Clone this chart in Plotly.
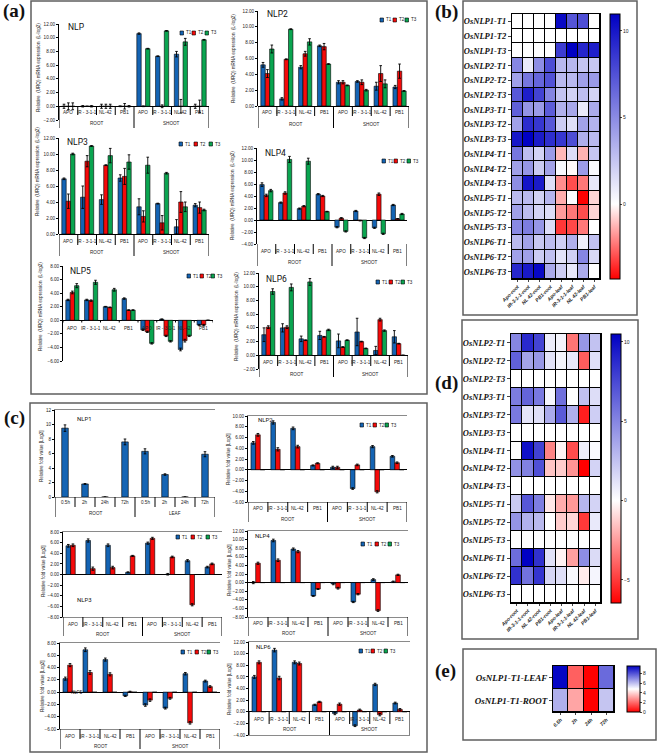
import plotly.graph_objects as go

W, H = 657, 753

# ---- panel (a) values ----
A1_T1 = [0, 0, 0, 0, 10.6, 7.3, 7.6, 0]
A1_T2 = [0, 0, 0, 0, 0, 0, 0, 0]
A1_T3 = [0, 0, 0, 0, 8.4, 11.0, 9.4, 9.7]
A1_E1 = [.3, .1, .3, .05, .1, .05, .4, .3]
A1_E2 = [.5, 0, .3, .4, .05, .2, 1, .9]
A1_E3 = [.5, .1, .3, .1, .05, .05, .5, .05]

A2_T1 = [5.2, 0.9, 4.9, 7.6, 3.0, 3.1, 2.5, 2.4]
A2_T2 = [4.1, 5.9, 6.6, 7.5, 3.0, 3.0, 4.1, 4.4]
A2_T3 = [7.2, 9.7, 8.1, 5.3, 2.6, 2.0, 2.8, 1.9]
A2_E1 = [.3, .15, .2, .1, .2, .1, .5, .2]
A2_E2 = [.5, .05, .3, .4, .2, .3, 1, .9]
A2_E3 = [.5, .05, .4, .05, .05, .1, .5, .05]

A3_T1 = [6.9, 4.6, 4.3, 7.0, 3.4, 3.8, 0.9, 3.6]
A3_T2 = [4.1, 9.1, 8.6, 7.2, 2.2, 1.4, 4.0, 3.3]
A3_T3 = [10.0, 11.0, 9.8, 9.0, 8.6, 7.6, 3.4, 3.0]
A3_E1 = [.1, 1.4, .6, .4, 1, .05, .9, .2]
A3_E2 = [.9, .7, .05, 1, .7, .9, 1.3, .7]
A3_E3 = [.1, .05, .9, .9, 1, .1, .6, .1]

A4_T1 = [5.9, 2.9, 1.9, 4.3, -1.2, 1.5, -1.3, 2.5]
A4_T2 = [4.1, 4.5, 2.3, 4.0, 0.3, -0.1, 4.3, 0.2]
A4_T3 = [4.9, 10.1, 9.8, 1.4, -1.9, -3.0, -2.3, 1.0]
A4_E1 = [.3, .1, .1, .1, .1, .1, .1, .1]
A4_E2 = [.2, .2, .1, .1, .1, .05, .2, .05]
A4_E3 = [.2, .5, .5, .05, .1, .1, .1, .1]

A5_T1 = [3.0, 3.0, 2.0, 3.2, -1.4, 0.15, -4.3, -0.7]
A5_T2 = [4.1, 2.9, 1.9, 1.5, -1.7, -2.3, -3.0, -0.7]
A5_T3 = [5.1, 5.6, 4.5, 1.5, -3.4, -3.1, -2.3, 0]
A5_E1 = [.1, .1, .05, .1, .1, .05, .2, .1]
A5_E2 = [.2, .1, .05, .05, .1, .1, .2, .1]
A5_E3 = [.3, .3, .2, .05, .1, .1, .1, 0]

A6_T1 = [3.0, 4.0, 2.4, 2.9, 2.1, 3.4, 0.7, 2.7]
A6_T2 = [4.1, 4.1, 2.2, 2.7, 1.2, 2.0, 5.2, 1.7]
A6_T3 = [9.3, 9.9, 10.7, 3.7, 2.2, 1.0, 3.6, 0]
A6_E1 = [1, .6, .4, .6, 1, 2, .6, .9]
A6_E2 = [.2, .2, .05, .05, .05, .05, .2, .05]
A6_E3 = [.4, .5, .5, .1, .05, .05, .1, 0]

# ---- panel (c) values ----
C1_T1 = [9.5, 1.8, 0, 7.6, 6.3, 3.1, 0, 5.9]
C1_E1 = [.45, .05, 0, .4, .35, .1, 0, .35]

C2_T1 = [5.0, 8.8, 7.7, 0.8, 0.45, -3.5, 4.3, 2.5]
C2_T2 = [6.5, 3.8, 4.3, 1.2, 0.45, 0.9, -4.1, 1.3]
C3_T1 = [5.4, 6.4, 5.5, 0.4, 5.9, 0.05, 2.6, 1.4]
C3_T2 = [5.5, 1.1, 1.3, 3.5, 6.8, 3.3, -5.7, 2.0]
C4_T1 = [0, 9.8, 7.8, -3.1, -0.3, -4.5, 0.7, 0.2]
C4_T2 = [4.5, 5.2, 7.2, -1.5, -1.3, -2.7, -6.5, 1.8]
C5_T1 = [2.2, 6.9, 5.3, -0.6, -2.1, -2.6, 3.0, 1.8]
C5_T2 = [4.4, 3.2, 2.9, 0.05, -1.3, -1.0, -5.0, 0.9]
C6_T1 = [6.0, 10.6, 8.5, 1.2, -0.3, -2.4, 4.7, 1.5]
C6_T2 = [8.5, 5.8, 8.3, 1.7, 1.3, 0.3, -0.5, 0.4]
C_EMPTY = [0, 0, 0, 0, 0, 0, 0, 0]
C_ERR = [.25, .3, .25, .1, .2, .15, .2, .15]

# ---- heat map labels ----
GROUPS = ["APO", "IR - 3-1-1", "NL-42", "PB1"]
TIMES = ["0.5h", "2h", "24h", "72h"]
HEAT_X = ["Apo-root", "IR-3-1-1-root", "NL 42-root", "PB1-root",
          "Apo-leaf", "IR-3-1-1-leaf", "NL 42-leaf", "PB1-leaf"]
B_ROWS = [f"OsNLP{g}-T{t}" for g in range(1, 7) for t in (1, 2, 3)]
D_ROWS = [f"OsNLP{g}-T{t}" for g in range(2, 7) for t in (1, 2, 3)]
B_Z = [A1_T1, A1_T2, A1_T3, A2_T1, A2_T2, A2_T3, A3_T1, A3_T2, A3_T3,
       A4_T1, A4_T2, A4_T3, A5_T1, A5_T2, A5_T3, A6_T1, A6_T2, A6_T3]
D_Z = [C2_T1, C2_T2, C_EMPTY, C3_T1, C3_T2, C_EMPTY, C4_T1, C4_T2, C_EMPTY,
       C5_T1, C5_T2, C_EMPTY, C6_T1, C6_T2, C_EMPTY]
E_ROWS = ["OsNLP1-T1-LEAF", "OsNLP1-T1-ROOT"]
E_LEAF = [9.5, 1.8, 0, 7.6]
E_ROOT = [6.3, 3.1, 0, 5.9]

COL = ["#1464B4", "#F50A0A", "#0AA550"]
NAMES = ["T1", "T2", "T3"]
SANS = "Liberation Sans, Arial, sans-serif"
SERIF = "Liberation Serif, Times New Roman, serif"
TITLE_FONT = "Roboto, Arial, sans-serif"
INK = "#222222"


def X(p):
    return p / W


def Y(p):
    return 1 - p / H


fig = go.Figure()
shapes, annos = [], []
layout = {}
axn = 0


def text(x, y, s, size=4.6, font=SANS, xref="paper", yref="paper", angle=0,
         anchor="center", color=INK):
    annos.append(dict(x=x, y=y, text=s, showarrow=False, xref=xref, yref=yref,
                      textangle=angle, xanchor=anchor, yanchor="middle",
                      font=dict(size=size, family=font, color=color)))


def frame(x0, y0, x1, y1):
    shapes.append(dict(type="rect", xref="paper", yref="paper", x0=X(x0), x1=X(x1),
                       y0=Y(y0), y1=Y(y1), line=dict(color="#5f5f5f", width=1.5)))


def vline(xa, x, y0, y1, w=1.0):
    shapes.append(dict(type="line", xref=xa, yref="paper", x0=x, x1=x,
                       y0=Y(y0), y1=Y(y1), line=dict(color="black", width=w)))


def bars(px0, px1, py_top, py_bot, ymax, ymin, series, errors, title, title_xy, leg_x, leg_y,
         ytitle, ytitle_xy, lab_y, lab2_y, div_top, short_bot, long_bot, box=False, dtick=2,
         fmt=".2f", labels=None, parts=("ROOT", "SHOOT"), title_size=8.5):
    global axn
    axn += 1
    sfx = "" if axn == 1 else str(axn)
    xa, ya = f"x{sfx}", f"y{sfx}"
    for k, (vals, err) in enumerate(zip(series, errors)):
        fig.add_trace(go.Bar(
            x=[i + 0.5 for i in range(8)], y=vals, name=NAMES[k], xaxis=xa, yaxis=ya,
            marker=dict(color=COL[k], line=dict(color="black", width=0.6)), showlegend=False,
            error_y=dict(type="data", array=err, visible=any(e > 0 for e in err),
                         color="black", thickness=0.9, width=1.3)))
    mirror = {"mirror": True} if box else {}
    layout[f"xaxis{sfx}"] = dict(domain=[X(px0), X(px1)], range=[0, 8], anchor=ya,
                                 showgrid=False, showticklabels=False, ticks="",
                                 showline=box, linecolor="#8a8a8a", linewidth=0.8, zeroline=False, **mirror)
    layout[f"yaxis{sfx}"] = dict(domain=[Y(py_bot), Y(py_top)], range=[ymin, ymax], anchor=xa,
                                 dtick=dtick, tickformat=fmt, showgrid=False, ticks="outside",
                                 ticklen=2, tickwidth=0.8, tickcolor="black", showline=True,
                                 linecolor="black", linewidth=1, zeroline=True,
                                 zerolinecolor="black", zerolinewidth=1.1,
                                 tickfont=dict(size=4.6, family=SANS, color=INK))
    labels = labels or (GROUPS + GROUPS)
    for i, lab in enumerate(labels):
        text(i + 0.5, Y(lab_y), lab, xref=xa)
    for i in range(9):
        if i % 4 == 0 and long_bot:
            vline(xa, i, div_top, long_bot)
        else:
            vline(xa, i, div_top, short_bot)
    if lab2_y:
        text(2, Y(lab2_y), parts[0], xref=xa)
        text(6, Y(lab2_y), parts[1], xref=xa)
    text(X(title_xy[0]), Y(title_xy[1]), title, size=title_size, font=TITLE_FONT, anchor="left", color="#111111")
    if leg_x:
        for k, lx in enumerate(leg_x):
            shapes.append(dict(type="rect", xref="paper", yref="paper", x0=X(lx - 2), x1=X(lx + 1.5),
                               y0=Y(leg_y + 2), y1=Y(leg_y - 2), fillcolor=COL[k],
                               line=dict(color="black", width=0.6)))
            text(X(lx + 2), Y(leg_y), NAMES[k], anchor="left")
    text(X(ytitle_xy[0]), Y(ytitle_xy[1]), ytitle, angle=-90)


RQ = "Relative  (URQ) mRNA expression  (L-log2)"
FV = "Relative fold value [Log2]"

bars(59, 209, 24, 120, 12, -2, [A1_T1, A1_T2, A1_T3], [A1_E1, A1_E2, A1_E3], "NLP", (66, 27),
     [182, 194, 207], 33, RQ, (38, 68), 113, 124, 106, 115, 128)
bars(258, 409, 11, 106, 12, 0, [A2_T1, A2_T2, A2_T3], [A2_E1, A2_E2, A2_E3], "NLP2", (265, 14),
     [382, 395, 407], 20, RQ, (233, 59), 113, 125, 106, 116, 128)
bars(59, 209, 138, 234, 12, 0, [A3_T1, A3_T2, A3_T3], [A3_E1, A3_E2, A3_E3], "NLP3", (65, 142),
     [181, 196, 211], 144, RQ, (37, 172), 242, 253, 234, 245, 256)
bars(257, 407, 148, 244, 12, -4, [A4_T1, A4_T2, A4_T3], [A4_E1, A4_E2, A4_E3], "NLP4", (263, 153),
     [384, 396, 409], 161, RQ, (232, 196), 252, 262, 244, 254, 266)
bars(63, 213, 266, 361, 8, -6, [A5_T1, A5_T2, A5_T3], [A5_E1, A5_E2, A5_E3], "NLP5", (68, 271),
     [189, 202, 213], 276, RQ, (40, 307), 328, None, 321, 322.5, None)
bars(259, 408, 273, 369, 12, -2, [A6_T1, A6_T2, A6_T3], [A6_E1, A6_E2, A6_E3], "NLP6", (264, 279),
     [378, 391, 403], 282, RQ, (236, 317), 362, 374, 355, 366, 377)

bars(55, 215, 410, 497, 12, 0, [C1_T1], [C1_E1], "NLP1", (75, 419), None, 0, FV, (41, 456),
     503, 513, 497, 507, 517, box=True, fmt="d", labels=TIMES + TIMES, parts=("ROOT", "LEAF"),
     title_size=6)
C_ERRS = [C_ERR, C_ERR, C_EMPTY]
bars(248, 407, 416, 502, 10, -6, [C2_T1, C2_T2, C_EMPTY], C_ERRS, "NLP2", (256, 420),
     [362, 375, 387], 425, FV, (228, 459), 509, 519, 502, 512, 522, box=True, title_size=6)
bars(63, 222, 532, 617, 8, -8, [C3_T1, C3_T2, C_EMPTY], C_ERRS, "NLP3", (75, 599),
     [178, 193, 208], 537, FV, (43, 571), 624, 634, 617, 627, 636, box=True, title_size=6)
bars(248, 408, 531, 617, 12, -8, [C4_T1, C4_T2, C_EMPTY], C_ERRS, "NLP4", (253, 535),
     [363, 377, 390], 544, FV, (229, 570), 623, 633, 617, 627, 636, box=True, title_size=6)
bars(60, 220, 643, 729, 8, -6, [C5_T1, C5_T2, C_EMPTY], C_ERRS, "NLP5", (69, 692),
     [183, 197, 209], 652, FV, (42, 686), 736, 746, 729, 739, 749, box=True, title_size=4.5)
bars(249, 410, 642, 735, 12, -4, [C6_T1, C6_T2, C_EMPTY], C_ERRS, "NLP6", (254, 646),
     [361, 373, 386], 651, FV, (229, 689), 719, 729, 712, 724, 735, box=True, title_size=6)
# single-series panel keeps a narrow bar
fig.update_traces(width=0.33, selector=dict(xaxis="x7"))
layout["bargap"] = 0.3
layout["bargroupgap"] = 0


def heat(px0, px1, py0, py1, z, xs, ys, zmin, zmax, stops, cb_x, cb_w, ticks, lab_size=8.5,
         x_size=5):
    global axn
    axn += 1
    xa, ya = f"x{axn}", f"y{axn}"
    fig.add_trace(go.Heatmap(
        z=z, x=xs, y=ys, xaxis=xa, yaxis=ya, zmin=zmin, zmax=zmax, colorscale=stops,
        xgap=1, ygap=1,
        colorbar=dict(x=X(cb_x), xanchor="left", xpad=0, y=Y(py0), yanchor="top", ypad=0,
                      len=(py1 - py0) / H, lenmode="fraction", thickness=cb_w,
                      thicknessmode="pixels", outlinewidth=1, outlinecolor="black",
                      tickvals=ticks, ticks="outside", ticklen=2, tickwidth=0.8,
                      tickfont=dict(size=5, family=SANS, color=INK))))
    shapes.append(dict(type="rect", layer="below", xref=f"{xa} domain", yref=f"{ya} domain",
                       x0=0, x1=1, y0=0, y1=1, fillcolor="black", line=dict(width=0)))
    layout[f"xaxis{axn}"] = dict(domain=[X(px0), X(px1)], anchor=ya, tickangle=-45, ticks="outside",
                                 ticklen=2, tickwidth=0.8, showline=True, mirror=True,
                                 linecolor="black", linewidth=1, showgrid=False, zeroline=False,
                                 tickmode="array", tickvals=xs,
                                 ticktext=[f"<b><i>{s}</i></b>" for s in xs],
                                 tickfont=dict(size=x_size, family=SANS, color=INK))
    layout[f"yaxis{axn}"] = dict(domain=[Y(py1), Y(py0)], anchor=xa, autorange="reversed",
                                 ticks="outside", ticklen=3, tickwidth=1, showline=True,
                                 mirror=True, linecolor="black", linewidth=1, showgrid=False,
                                 zeroline=False, tickmode="array", tickvals=ys,
                                 ticktext=[f"<b><i>{s}</i></b>" for s in ys],
                                 tickfont=dict(size=lab_size, family=SERIF, color="#111111"))


def scale(zmin, zmax, mid=0.0):
    return [[0, "rgb(255,0,0)"], [(mid - zmin) / (zmax - zmin), "rgb(255,255,255)"],
            [1, "rgb(0,0,195)"]]


heat(512, 600, 14, 279, B_Z, HEAT_X, B_ROWS, -4.33, 10.98, scale(-4.33, 10.98), 610, 10, [0, 5, 10])
heat(511, 601, 334, 603, D_Z, HEAT_X, D_ROWS, -6.45, 10.5, scale(-6.45, 10.5), 611, 10, [-5, 0, 5, 10])
heat(553, 614, 666, 712, [E_LEAF, E_ROOT], TIMES, E_ROWS, 0, 9.6, scale(0, 9.6, 4.8), 627, 13,
     [0, 2, 4, 6, 8], lab_size=9)

frame(31, 1, 427, 394)
frame(30, 403, 427, 752)
frame(463, 1, 637, 315)
frame(462, 320, 638, 639)
frame(463, 649, 656, 740)

for s, x, y in [("(a)", 1, 11), ("(b)", 433, 12), ("(c)", 2, 418), ("(d)", 433, 383), ("(e)", 433, 671)]:
    text(X(x), Y(y), f"<b>{s}</b>", size=19, font=SERIF, anchor="left", color="#111111")

fig.update_layout(width=W, height=H, margin=dict(l=0, r=0, t=0, b=0, autoexpand=False), autosize=False,
                  paper_bgcolor="white", plot_bgcolor="white", shapes=shapes, annotations=annos,
                  barmode="group", **layout)
fig.write_html("out.html", config={"displayModeBar": False},
               post_script="document.body.style.margin='0';document.body.style.overflow='hidden';")
